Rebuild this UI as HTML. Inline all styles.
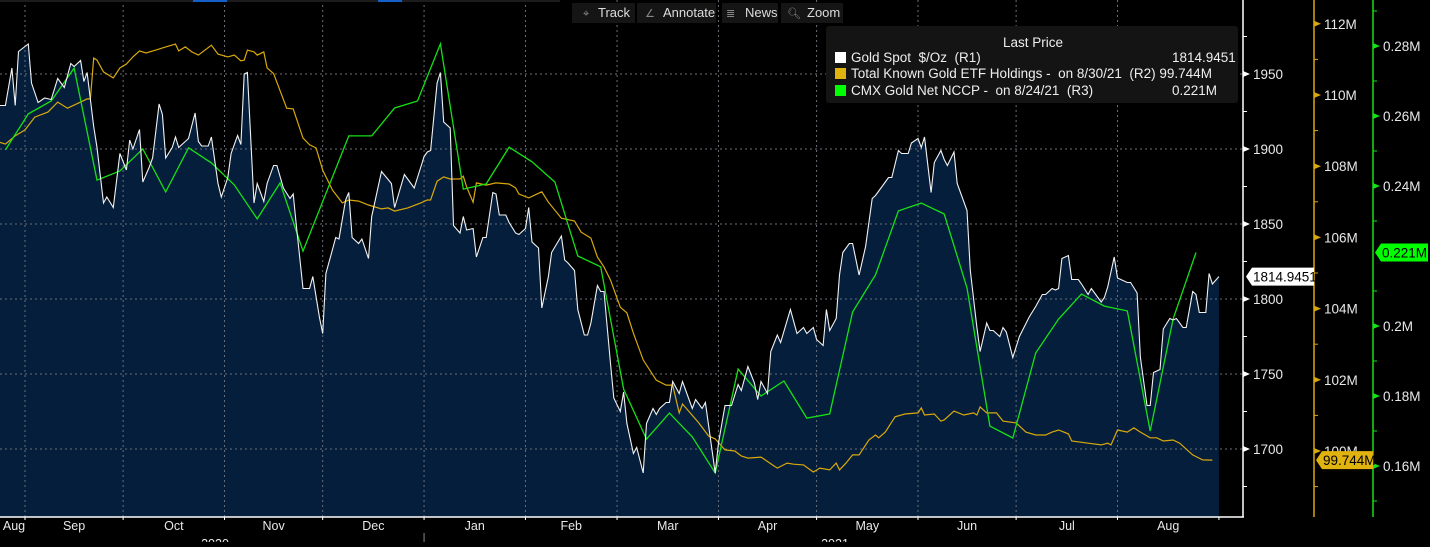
<!DOCTYPE html>
<html><head><meta charset="utf-8">
<style>
html,body{margin:0;padding:0;background:#000;}
body{width:1430px;height:542px;overflow:hidden;font-family:"Liberation Sans",sans-serif;}
svg text{font-family:"Liberation Sans",sans-serif;}
</style></head>
<body>
<svg id="chart" width="1430" height="542" viewBox="0 0 1430 542" xmlns="http://www.w3.org/2000/svg">
<rect x="0" y="0" width="1430" height="542" fill="#000"/>
<g id="grid"></g>
<g id="series"></g>
<g id="axes"></g>
<g id="toolbar">
  <rect x="0" y="0" width="560" height="2" fill="#1c1c1c"/>
  <rect x="193" y="0" width="34" height="2" fill="#1560c8"/>
  <rect x="378" y="0" width="24" height="2" fill="#1560c8"/>
  <g><rect x="572" y="3" width="63" height="20" fill="#151515"/><text x="583" y="17" fill="#888" font-size="11">⌖</text><text x="598" y="17" fill="#ddd" font-size="13">Track</text></g>
  <g><rect x="637" y="3" width="79" height="20" fill="#151515"/><text x="645" y="17" fill="#888" font-size="11">∠</text><text x="663" y="17" fill="#ddd" font-size="13">Annotate</text></g>
  <g><rect x="722" y="3" width="56" height="20" fill="#151515"/><text x="726" y="17" fill="#888" font-size="11">≣</text><text x="745" y="17" fill="#ddd" font-size="13">News</text></g>
  <g><rect x="781" y="3" width="62" height="20" fill="#151515"/><text x="787" y="17" fill="#888" font-size="11">🔍︎</text><text x="807" y="17" fill="#ddd" font-size="13">Zoom</text></g>
</g>
<g id="legend">
  <rect x="826" y="26" width="412" height="77" rx="3" fill="#141414"/>
  <text x="1033" y="47" fill="#eee" font-size="13.5" text-anchor="middle">Last Price</text>
  <g><rect x="835" y="52" width="11" height="11" fill="#fff"/><text x="851" y="62" fill="#eee" font-size="13.5" xml:space="preserve">Gold Spot  $/Oz  (R1)</text><text x="1172" y="62" fill="#eee" font-size="13.5">1814.9451</text></g>
  <g><rect x="835" y="68" width="11" height="11" fill="#e0b30e"/><text x="851" y="78" fill="#eee" font-size="13.5" xml:space="preserve">Total Known Gold ETF Holdings -  on 8/30/21  (R2) 99.744M</text></g>
  <g><rect x="835" y="85" width="11" height="11" fill="#00ff00"/><text x="851" y="95" fill="#eee" font-size="13.5" xml:space="preserve">CMX Gold Net NCCP -  on 8/24/21  (R3)</text><text x="1172" y="95" fill="#eee" font-size="13.5">0.221M</text></g>
</g>
</svg>
<script>
// day offsets from 2020-09-01
const goldDays=[-8,-6,-4,-3,-2,1,2,4,6,8,10,12,14,15,17,18,19,21,22,24,25,27,29,31,32,33,35,36,38,39,41,42,43,45,46,47,50,52,53,54,56,57,59,60,62,63,65,66,67,68,70,71,73,74,76,77,79,81,82,83,85,87,88,90,91,92,94,95,96,98,99,100,102,103,105,106,109,112,113,116,119,120,122,123,124,126,127,128,130,131,133,134,135,137,138,140,141,143,144,145,147,148,150,151,153,154,155,157,158,160,161,164,165,166,168,169,171,172,173,175,176,177,179,180,182,183,184,186,187,189,190,192,193,194,196,197,198,200,201,204,205,207,208,211,212,214,216,218,219,221,223,224,225,227,228,230,231,234,236,238,239,241,242,244,245,246,248,249,250,252,253,255,257,259,260,263,264,265,267,268,270,271,273,274,275,277,278,280,281,282,284,285,288,289,291,292,294,295,296,298,299,300,302,304,307,309,311,312,314,315,316,317,319,320,322,323,325,326,328,329,330,331,333,334,335,337,338,340,341,343,344,345,347,348,350,351,352,354,355,357,358,359,361,362,363,365];
const goldValues=[1929,1929,1954,1929,1965,1970,1944,1931,1934,1933,1947,1941,1957,1955,1959,1945,1951,1915,1901,1864,1868,1861,1897,1886,1906,1900,1913,1878,1888,1894,1930,1923,1894,1901,1908,1901,1907,1924,1905,1902,1902,1908,1877,1868,1881,1897,1909,1903,1950,1951,1864,1877,1865,1877,1889,1889,1874,1867,1870,1848,1807,1807,1815,1788,1777,1817,1833,1841,1840,1866,1871,1841,1837,1840,1827,1855,1885,1877,1861,1883,1874,1881,1895,1898,1899,1944,1951,1918,1914,1849,1844,1855,1846,1847,1828,1841,1841,1871,1870,1856,1856,1851,1844,1843,1847,1861,1838,1834,1794,1815,1831,1842,1826,1824,1819,1793,1776,1776,1784,1809,1805,1805,1757,1734,1725,1738,1717,1697,1701,1684,1717,1727,1723,1727,1731,1731,1745,1737,1745,1727,1733,1727,1731,1684,1704,1729,1729,1743,1739,1755,1744,1733,1745,1737,1765,1776,1771,1793,1777,1781,1777,1781,1773,1769,1793,1779,1787,1816,1831,1837,1837,1816,1835,1867,1869,1878,1881,1881,1899,1897,1897,1904,1907,1901,1908,1871,1891,1899,1893,1889,1898,1877,1859,1819,1781,1765,1784,1779,1779,1775,1781,1778,1761,1775,1788,1795,1803,1803,1807,1806,1807,1827,1829,1813,1813,1810,1803,1807,1801,1798,1801,1808,1828,1814,1813,1811,1811,1804,1761,1729,1729,1751,1753,1780,1787,1786,1787,1781,1781,1805,1803,1791,1791,1817,1810,1814.9451];
const etfDays=[-8,-6,-3,0,3,7,10,13,17,19,20,21,22,24,27,29,31,33,35,37,40,43,46,47,49,51,53,57,59,62,64,66,67,68,70,71,73,74,76,80,82,85,87,89,91,94,97,99,102,105,109,111,113,117,121,123,124,126,128,130,133,134,135,137,138,141,144,148,150,151,154,158,160,164,168,170,173,175,177,179,182,184,186,189,193,196,198,200,201,206,209,211,214,217,219,221,225,229,230,233,235,238,241,243,246,248,249,251,253,255,258,260,261,263,266,269,273,274,275,278,280,281,284,287,290,291,292,294,297,299,303,306,309,312,314,316,319,320,325,329,331,332,334,337,339,341,344,346,348,351,353,357,360,363];
const etfValues=[108.68,108.62,108.85,109.02,109.38,109.52,109.80,109.63,109.80,109.89,109.89,111.04,110.98,110.65,110.48,110.76,110.87,111.07,111.24,111.18,111.26,111.35,111.43,111.24,111.35,111.21,111.12,111.40,111.15,111.07,111.12,110.96,110.98,111.26,111.21,111.12,111.21,110.76,110.60,109.63,109.61,108.79,108.60,108.51,107.89,107.33,106.97,107.05,107.02,106.91,106.80,106.83,106.74,106.83,106.97,107.05,107.05,107.58,107.70,107.64,107.64,107.72,107.42,106.99,107.53,107.47,107.53,107.50,107.39,107.22,107.11,107.28,106.99,106.54,106.46,106.15,105.98,105.45,105.17,104.80,104.04,103.88,103.31,102.56,101.99,101.85,101.85,101.07,101.32,100.79,100.42,100.34,100.03,100.00,99.86,99.80,99.83,99.58,99.52,99.66,99.63,99.61,99.41,99.52,99.47,99.66,99.47,99.66,99.89,99.89,100.31,100.45,100.37,100.53,100.96,101.04,101.07,101.21,101.01,101.04,100.84,100.87,101.12,101.01,101.07,101.01,101.24,101.07,101.07,100.84,100.79,100.53,100.45,100.45,100.53,100.59,100.48,100.28,100.22,100.17,100.22,100.17,100.59,100.53,100.65,100.53,100.37,100.37,100.28,100.31,100.22,99.89,99.75,99.744];
const nccpDays=[-6,1,8,15,22,29,36,43,50,57,64,71,78,85,99,106,113,120,127,134,141,148,155,162,169,176,183,190,197,204,211,218,225,232,239,246,253,260,267,274,281,288,295,302,309,316,323,330,337,344,351,358];
const nccpValues=[0.2503,0.2606,0.2643,0.2737,0.2417,0.2443,0.2506,0.2383,0.2509,0.2466,0.2403,0.2306,0.2409,0.2214,0.2543,0.2543,0.2623,0.2643,0.2806,0.2391,0.2406,0.2511,0.2469,0.2411,0.2200,0.2169,0.1820,0.1677,0.1751,0.1683,0.1580,0.1877,0.1800,0.1843,0.1737,0.1749,0.2040,0.2146,0.2329,0.2351,0.2320,0.2109,0.1714,0.1680,0.1923,0.2020,0.2091,0.2057,0.2043,0.1700,0.2020,0.2210];
const monthLabels=["Aug","Sep","Oct","Nov","Dec","Jan","Feb","Mar","Apr","May","Jun","Jul","Aug"];
const monthStartDays=[-31,0,30,61,91,122,153,181,212,242,273,303,334,365];
const goldTicks=[1700,1750,1800,1850,1900,1950];
const etfTicks=[100,102,104,106,108,110,112];
const nccpTicks=[0.16,0.18,0.2,0.22,0.24,0.26,0.28];
const nccpTickLabels=["0.16M","0.18M","0.2M","0.22M","0.24M","0.26M","0.28M"];

const NS="http://www.w3.org/2000/svg";
const PL=0,PR=1243,PT=0,PB=517;
const xS=d=>25+d*3.271;
const yGold=v=>449-(v-1700)*1.5;
const yEtf=v=>451-(v-100)*35.6;
const yNccp=v=>466-(v-0.16)*3500;
function mk(tag,attrs,parent){const e=document.createElementNS(NS,tag);for(const k in attrs)e.setAttribute(k,attrs[k]);parent.appendChild(e);return e;}
const grid=document.getElementById('grid'),series=document.getElementById('series'),axes=document.getElementById('axes');

let gp=goldDays.map((d,i)=>xS(d).toFixed(1)+','+yGold(goldValues[i]).toFixed(1));
const area=mk('path',{d:'M'+xS(goldDays[0]).toFixed(1)+','+PB+' L'+gp.join(' L')+' L'+xS(goldDays[goldDays.length-1]).toFixed(1)+','+PB+' Z',fill:'#041e3b'},series);


goldTicks.forEach(v=>{const l=mk('line',{x1:PL,x2:PR,y1:yGold(v),y2:yGold(v),stroke:'#6b6f78','stroke-width':1,'stroke-dasharray':'2,3'},series);

});
monthStartDays.slice(1,13).forEach(d=>{const l=mk('line',{x1:xS(d),x2:xS(d),y1:PT,y2:PB,stroke:'#6b6f78','stroke-width':1,'stroke-dasharray':'2,3'},series);

});
const etf=mk('polyline',{points:etfDays.map((d,i)=>xS(d).toFixed(1)+','+yEtf(etfValues[i]).toFixed(1)).join(' '),fill:'none',stroke:'#d9a90c','stroke-width':1.2},series);


const nc=mk('polyline',{points:nccpDays.map((d,i)=>xS(d).toFixed(1)+','+yNccp(nccpValues[i]).toFixed(1)).join(' '),fill:'none',stroke:'#16e016','stroke-width':1.3},series);


const gl=mk('polyline',{points:gp.join(' '),fill:'none',stroke:'#f2f2f2','stroke-width':1.1},series);



mk('line',{x1:0,x2:PR+1,y1:PB,y2:PB,stroke:'#fff','stroke-width':1.5},axes);
mk('line',{x1:PR,x2:PR,y1:0,y2:PB,stroke:'#fff','stroke-width':1.5},axes);
mk('line',{x1:1314,x2:1314,y1:0,y2:PB,stroke:'#d9a90c','stroke-width':1.5},axes);
mk('line',{x1:1373,x2:1373,y1:0,y2:PB,stroke:'#16e016','stroke-width':1.5},axes);
function tri(x,y,c){mk('path',{d:`M${x},${y-3} L${x+7},${y} L${x},${y+3} Z`,fill:c},axes);}
goldTicks.forEach(v=>{const y=yGold(v);tri(PR,y,'#fff');const t=mk('text',{x:1253,y:y+5,fill:'#e8e8e8','font-size':13.5},axes);t.textContent=v;


mk('line',{x1:PR,x2:PR+4,y1:yGold(v+25),y2:yGold(v+25),stroke:'#fff'},axes);});
mk('line',{x1:PR,x2:PR+4,y1:yGold(1675),y2:yGold(1675),stroke:'#fff'},axes);
etfTicks.forEach(v=>{const y=yEtf(v);tri(1314,y,'#d9a90c');const t=mk('text',{x:1324,y:y+5,fill:'#e8e8e8','font-size':13.5},axes);t.textContent=v+'M';


mk('line',{x1:1314,x2:1318,y1:yEtf(v-1),y2:yEtf(v-1),stroke:'#d9a90c'},axes);});
nccpTicks.forEach((v,i)=>{if(v===0.22)return;const y=yNccp(v);tri(1373,y,'#16e016');const t=mk('text',{x:1383,y:y+5,fill:'#e8e8e8','font-size':13.5},axes);t.textContent=nccpTickLabels[i];

});
for(let v=0.15;v<0.3;v+=0.02){const y=yNccp(v);if(y>0&&y<PB)mk('line',{x1:1373,x2:1377,y1:y,y2:y,stroke:'#16e016'},axes);}

function tag(x,y,w,txt,bg,name){const g=mk('g',{},axes);


mk('path',{d:`M${x},${y} L${x+6},${y-9} L${x+w},${y-9} L${x+w},${y+9} L${x+6},${y+9} Z`,fill:bg},g);
const t=mk('text',{x:x+7,y:y+5,fill:'#000','font-size':13.5},g);t.textContent=txt;}
tag(1246,yGold(goldValues[goldValues.length-1]),68,'1814.9451','#fff','gold-last-tag');
tag(1316,yEtf(etfValues[etfValues.length-1]),57,'99.744M','#e0b30e','etf-last-tag');
tag(1375,yNccp(nccpValues[nccpValues.length-1]),53,'0.221M','#00ff00','nccp-last-tag');

monthLabels.forEach((m,i)=>{let a=Math.max(monthStartDays[i],-7.6),b=Math.min(monthStartDays[i+1],372);let cx=xS((a+b)/2);if(i===0)cx=14;
mk('line',{x1:xS(monthStartDays[i+1]),x2:xS(monthStartDays[i+1]),y1:PB,y2:PB+3,stroke:'#fff'},axes);
const t=mk('text',{x:cx,y:530,fill:'#e8e8e8','font-size':12.5,'text-anchor':'middle'},axes);t.textContent=m;

});
mk('line',{x1:xS(122),x2:xS(122),y1:533,y2:542,stroke:'#888'},axes);
const y1=mk('text',{x:215,y:548,fill:'#e8e8e8','font-size':12.5,'text-anchor':'middle'},axes);y1.textContent='2020';


const y2=mk('text',{x:835,y:548,fill:'#e8e8e8','font-size':12.5,'text-anchor':'middle'},axes);y2.textContent='2021';


</script>
</body></html>
